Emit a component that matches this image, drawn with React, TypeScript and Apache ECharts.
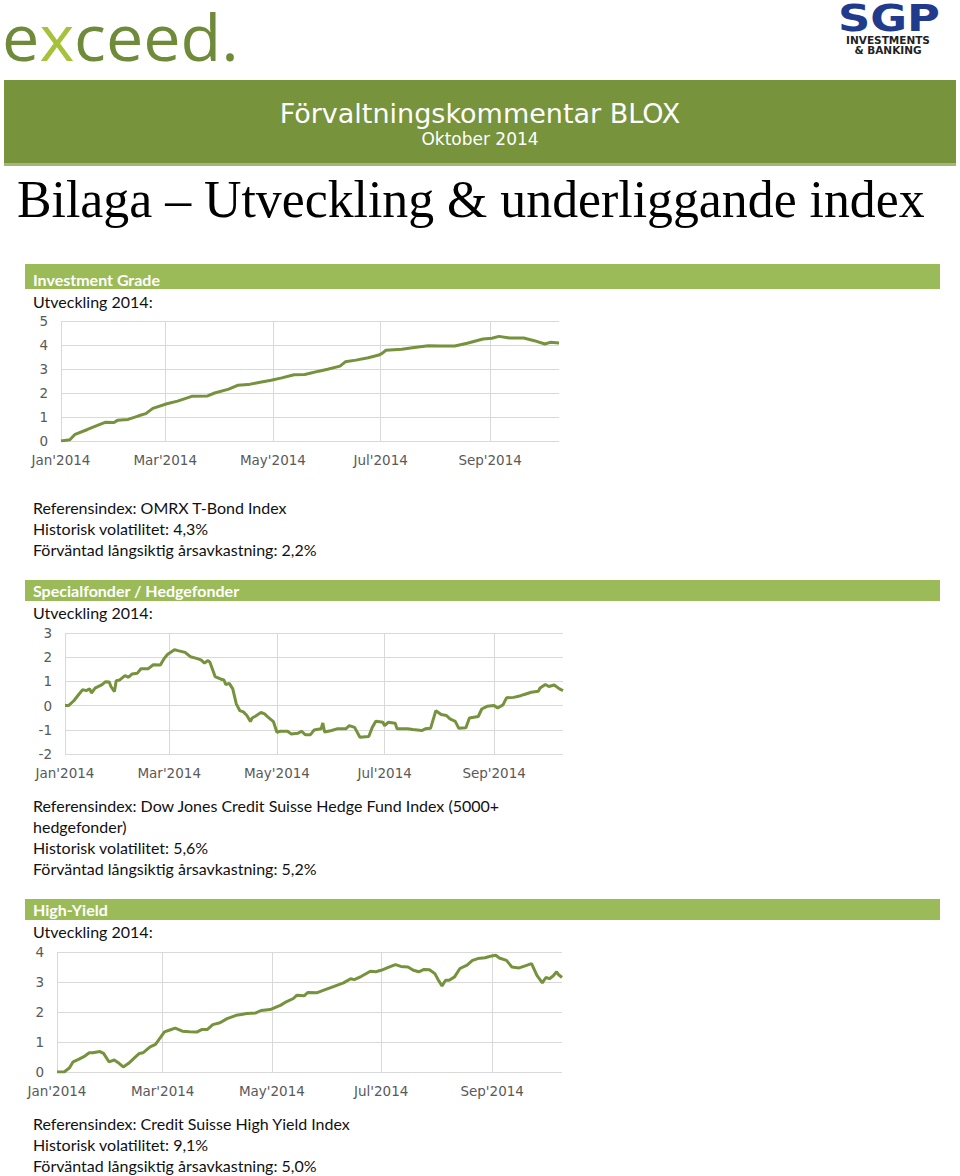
import React, { useEffect, useRef } from 'react';
import * as echarts from 'echarts';

// ---- axis ticks (day index from 2014-01-01) ----
const LAST_DAY = 282; // 2014-10-10
const TICK_DAYS = [0, 59, 120, 181, 243];
const TICK_LABELS = ["Jan'2014", "Mar'2014", "May'2014", "Jul'2014", "Sep'2014"];

// ---- Investment Grade ----
const igDays = [0, 5, 8, 15, 21, 25, 30, 32, 38, 44, 48, 52, 60, 66, 74, 83, 87, 95, 100, 106, 112, 119, 125, 132, 138, 146, 151, 158, 161, 167, 174, 180, 182, 184, 193, 200, 208, 215, 223, 230, 239, 244, 248, 254, 262, 268, 274, 277, 282];
const igValues = [0, 0.05, 0.28, 0.48, 0.66, 0.78, 0.77, 0.86, 0.9, 1.05, 1.14, 1.36, 1.55, 1.66, 1.86, 1.88, 2.0, 2.16, 2.32, 2.35, 2.44, 2.53, 2.63, 2.76, 2.77, 2.91, 2.99, 3.12, 3.3, 3.37, 3.47, 3.58, 3.66, 3.78, 3.82, 3.9, 3.97, 3.96, 3.96, 4.07, 4.25, 4.28, 4.36, 4.29, 4.29, 4.18, 4.04, 4.11, 4.08];

// ---- Specialfonder / Hedgefonder ----
const hfDays = [0, 2, 5, 8, 10, 12, 14, 15, 17, 21, 23, 25, 26, 28, 29, 31, 34, 36, 38, 41, 43, 47, 50, 54, 56, 58, 62, 64, 68, 71, 74, 77, 79, 81, 82, 85, 88, 90, 91, 93, 95, 97, 99, 101, 103, 105, 106, 108, 111, 113, 115, 118, 120, 122, 126, 128, 132, 134, 136, 139, 141, 145, 146, 147, 151, 154, 159, 161, 164, 167, 172, 174, 176, 180, 181, 183, 187, 188, 194, 197, 202, 204, 207, 210, 213, 216, 218, 221, 223, 227, 229, 234, 236, 239, 243, 245, 248, 250, 254, 258, 261, 264, 268, 269, 272, 274, 277, 280, 282];
const hfValues = [0, 0, 0.2, 0.48, 0.66, 0.62, 0.69, 0.52, 0.72, 0.87, 0.99, 0.98, 0.79, 0.58, 1.03, 1.06, 1.24, 1.17, 1.31, 1.34, 1.52, 1.52, 1.69, 1.68, 1.93, 2.11, 2.31, 2.27, 2.2, 2.02, 1.96, 1.89, 1.76, 1.86, 1.8, 1.2, 1.1, 1.06, 0.87, 0.92, 0.69, 0.07, -0.21, -0.26, -0.41, -0.66, -0.51, -0.43, -0.28, -0.34, -0.48, -0.66, -1.1, -1.06, -1.06, -1.17, -1.14, -1.06, -1.2, -1.2, -1.01, -0.96, -0.72, -1.09, -1.03, -0.96, -0.96, -0.83, -0.9, -1.31, -1.28, -0.9, -0.65, -0.69, -0.83, -0.69, -0.73, -0.96, -0.96, -0.99, -1.03, -0.96, -0.94, -0.21, -0.37, -0.41, -0.55, -0.65, -0.94, -0.92, -0.51, -0.45, -0.14, -0.03, 0, -0.1, 0.03, 0.32, 0.34, 0.41, 0.48, 0.55, 0.59, 0.73, 0.87, 0.79, 0.85, 0.69, 0.62];

// ---- High-Yield ----
const hyDays = [0, 4, 7, 9, 12, 15, 18, 20, 24, 26, 29, 32, 34, 37, 40, 44, 46, 48, 52, 55, 58, 60, 63, 66, 70, 74, 78, 81, 84, 87, 91, 95, 100, 103, 106, 111, 114, 119, 125, 128, 132, 134, 138, 140, 145, 149, 154, 160, 164, 166, 170, 175, 178, 181, 185, 189, 192, 196, 199, 202, 205, 208, 211, 213, 215, 217, 219, 222, 225, 229, 232, 235, 239, 242, 245, 247, 251, 254, 258, 261, 265, 268, 271, 273, 275, 277, 279, 280, 282];
const hyValues = [0, 0, 0.14, 0.34, 0.42, 0.51, 0.64, 0.64, 0.68, 0.62, 0.34, 0.4, 0.32, 0.17, 0.29, 0.51, 0.62, 0.64, 0.84, 0.92, 1.17, 1.34, 1.4, 1.46, 1.36, 1.34, 1.33, 1.42, 1.42, 1.58, 1.64, 1.78, 1.89, 1.92, 1.95, 1.97, 2.05, 2.08, 2.23, 2.34, 2.45, 2.56, 2.54, 2.65, 2.64, 2.73, 2.84, 2.97, 3.11, 3.08, 3.19, 3.36, 3.34, 3.39, 3.49, 3.58, 3.52, 3.5, 3.39, 3.34, 3.42, 3.41, 3.28, 3.06, 2.87, 3.06, 3.06, 3.17, 3.45, 3.56, 3.72, 3.78, 3.81, 3.86, 3.89, 3.8, 3.72, 3.5, 3.47, 3.53, 3.61, 3.22, 2.97, 3.15, 3.11, 3.2, 3.34, 3.25, 3.15];

// ---- texts ----
const SECTION_TITLES = ['Investment Grade', 'Specialfonder / Hedgefonder', 'High-Yield'];
const SUBTITLE = 'Utveckling 2014:';
const igInfo = ['Referensindex: OMRX T-Bond Index', 'Historisk volatilitet: 4,3%', 'Förväntad långsiktig årsavkastning: 2,2%'];
const hfInfo = ['Referensindex: Dow Jones Credit Suisse Hedge Fund Index (5000+', 'hedgefonder)', 'Historisk volatilitet: 5,6%', 'Förväntad långsiktig årsavkastning: 5,2%'];
const hyInfo = ['Referensindex: Credit Suisse High Yield Index', 'Historisk volatilitet: 9,1%', 'Förväntad långsiktig årsavkastning: 5,0%'];

const LINE_COLOR = '#76923c';
const GRID_COLOR = '#d9d9d9';
const AXIS_TEXT = '#595959';
const BODY_FONT = 'Lato';

export default function App() {
  const ref = useRef<HTMLDivElement>(null);

  useEffect(() => {
    document.body.style.margin = '0';
    const chart = echarts.init(ref.current!, null, { renderer: 'svg' });
    const categories = Array.from({ length: LAST_DAY + 1 }, (_, i) => String(i));

    const grids = [
      { left: 61, top: 321, width: 498, height: 120 },
      { left: 65, top: 633, width: 498, height: 121 },
      { left: 57, top: 952, width: 505, height: 120 },
    ];
    const yRanges = [
      [0, 5],
      [-2, 3],
      [0, 4],
    ];
    const seriesData = [
      igDays.map((d, k) => [d, igValues[k]]),
      hfDays.map((d, k) => [d, hfValues[k]]),
      hyDays.map((d, k) => [d, hyValues[k]]),
    ];

    const isTick = (idx: number) => TICK_DAYS.indexOf(idx) >= 0;

    const xAxes = grids.map((_, i) => ({
      type: 'category',
      gridIndex: i,
      data: categories,
      boundaryGap: false,
      axisLine: { show: false },
      axisTick: { show: false },
      axisLabel: {
        interval: (idx: number) => isTick(idx),
        formatter: (v: string) => TICK_LABELS[TICK_DAYS.indexOf(Number(v))] || '',
        color: AXIS_TEXT,
        fontFamily: 'DejaVu Sans',
        fontSize: 13.5,
        margin: 12,
      },
      splitLine: {
        show: true,
        interval: (idx: number) => isTick(idx),
        lineStyle: { color: GRID_COLOR, width: 1 },
      },
    }));

    const yAxes = grids.map((_, i) => ({
      type: 'value',
      gridIndex: i,
      min: yRanges[i][0],
      max: yRanges[i][1],
      interval: 1,
      axisLine: { show: false },
      axisTick: { show: false },
      axisLabel: { color: AXIS_TEXT, fontFamily: 'DejaVu Sans', fontSize: 13.5, margin: 13 },
      splitLine: { show: true, lineStyle: { color: GRID_COLOR, width: 1 } },
    }));

    const series = seriesData.map((data, i) => ({
      type: 'line',
      xAxisIndex: i,
      yAxisIndex: i,
      data,
      symbol: 'none',
      showSymbol: false,
      lineStyle: { color: LINE_COLOR, width: 3 },
    }));

    const bodyText = (text: string, y: number, extra: any = {}) => ({
      type: 'text',
      x: 33,
      y,
      style: {
        text,
        fill: '#111111',
        fontFamily: BODY_FONT,
        fontSize: 16,
        align: 'left',
        verticalAlign: 'middle',
        ...extra,
      },
    });

    const sectionBar = (title: string, y: number, h: number, textY: number) => [
      { type: 'rect', shape: { x: 25, y, width: 915, height: h }, style: { fill: '#9bbb59' } },
      bodyText(title, textY, { fill: '#ffffff', fontWeight: 'bold' }),
    ];

    const logoPart = (text: string, x: number, fill: string) => ({
      type: 'text',
      x,
      y: 36,
      scaleX: 1.04,
      style: { text, fill, fontFamily: 'Open Sans', fontSize: 64, align: 'left', verticalAlign: 'middle' },
    });

    const graphics: any[] = [
      // exceed. logo
      logoPart('e', 2, '#6f8b3a'),
      logoPart('x', 39.5, '#a6c23a'),
      logoPart('ceed.', 74, '#6f8b3a'),
      // SGP logo
      {
        type: 'text',
        x: 889,
        y: 18,
        scaleX: 1.18,
        style: {
          text: 'SGP',
          fill: '#213b8c',
          fontFamily: 'DejaVu Sans',
          fontWeight: 'bold',
          fontSize: 38,
          lineHeight: 32,
          align: 'center',
          verticalAlign: 'middle',
        },
      },
      {
        type: 'text',
        x: 888,
        y: 40,
        style: { text: 'INVESTMENTS', fill: '#222222', fontFamily: 'DejaVu Sans', fontWeight: 'bold', fontSize: 10.5, align: 'center', verticalAlign: 'middle' },
      },
      {
        type: 'text',
        x: 888,
        y: 50,
        style: { text: '& BANKING', fill: '#222222', fontFamily: 'DejaVu Sans', fontWeight: 'bold', fontSize: 10.5, align: 'center', verticalAlign: 'middle' },
      },
      // green header banner
      { type: 'rect', shape: { x: 4, y: 80, width: 952, height: 83 }, style: { fill: '#77933c' } },
      { type: 'rect', shape: { x: 4, y: 163, width: 952, height: 3 }, style: { fill: '#a3b878' } },
      {
        type: 'text',
        x: 480,
        y: 113,
        style: { text: 'Förvaltningskommentar BLOX', fill: '#ffffff', fontFamily: 'DejaVu Sans', fontSize: 27, align: 'center', verticalAlign: 'middle' },
      },
      {
        type: 'text',
        x: 480,
        y: 139,
        style: { text: 'Oktober 2014', fill: '#ffffff', fontFamily: 'DejaVu Sans', fontSize: 17, align: 'center', verticalAlign: 'middle' },
      },
      // heading
      {
        type: 'text',
        x: 17,
        y: 199,
        style: { text: 'Bilaga – Utveckling & underliggande index', fill: '#000000', fontFamily: 'Liberation Serif', fontSize: 51.8, align: 'left', verticalAlign: 'middle' },
      },
      ...sectionBar(SECTION_TITLES[0], 264, 25, 279),
      bodyText(SUBTITLE, 301),
      ...igInfo.map((t, k) => bodyText(t, 507 + k * 21)),
      ...sectionBar(SECTION_TITLES[1], 580, 21, 590),
      bodyText(SUBTITLE, 612),
      ...hfInfo.map((t, k) => bodyText(t, 805 + k * 21)),
      ...sectionBar(SECTION_TITLES[2], 899, 21, 909),
      bodyText(SUBTITLE, 931),
      ...hyInfo.map((t, k) => bodyText(t, 1123 + k * 21)),
    ];

    chart.setOption({
      animation: false,
      backgroundColor: '#ffffff',
      grid: grids.map((g) => ({ ...g, containLabel: false, outerBoundsMode: 'none' })),
      xAxis: xAxes,
      yAxis: yAxes,
      series,
      graphic: { elements: graphics },
    } as any);

    return () => {
      chart.dispose();
    };
  }, []);

  return <div ref={ref} style={{ position: 'absolute', left: 0, top: 0, width: 960, height: 1176 }} />;
}
